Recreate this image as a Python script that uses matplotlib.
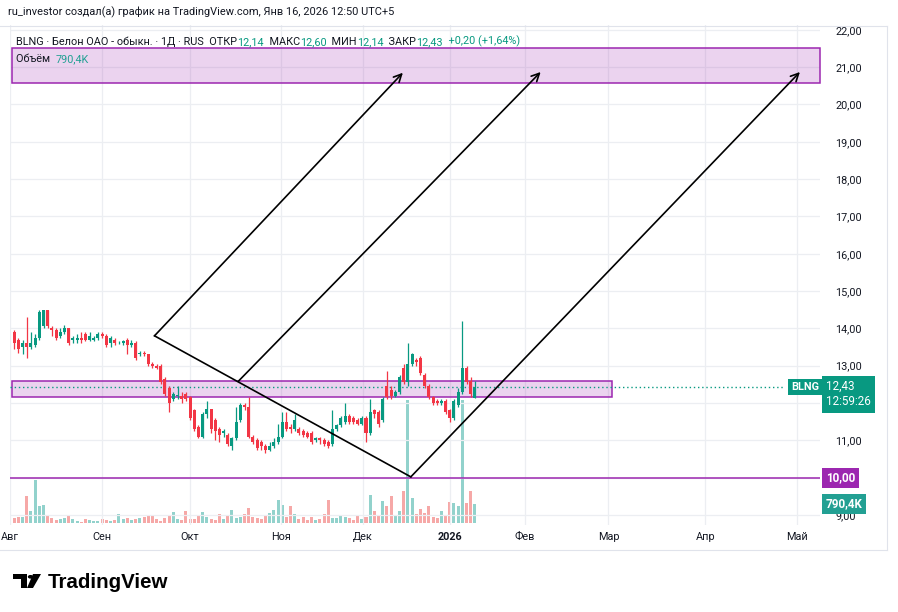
import numpy as np
import matplotlib
matplotlib.use("Agg")
import matplotlib.pyplot as plt
import matplotlib.transforms as mtransforms
from matplotlib.patches import Rectangle, Polygon, Circle
from matplotlib.lines import Line2D
from matplotlib.ticker import FuncFormatter

plt.rcParams["font.family"] = ["Roboto", "DejaVu Sans"]

# daily candles, Aug 2025 .. Jan 16 2026 (bar index = trading day)
opens = [13.9, 13.7, 13.5, 13.6, 13.5, 13.55, 13.75, 14.05, 14.5, 14.0,
         13.95, 13.8, 13.9, 14.0, 13.7, 13.7, 13.75, 13.85, 13.7, 13.7,
         13.75, 13.85, 13.8, 13.6, 13.7, 13.6, 13.62, 13.7, 13.55, 13.6,
         13.3, 13.35, 13.3, 13.05, 13.0, 13.0, 12.65, 12.4, 12.1, 12.2,
         12.2, 12.25, 12.15, 11.8, 11.35, 11.1, 11.7, 11.85, 11.55, 11.3,
         11.2, 11.15, 10.85, 11.05, 11.55, 11.95, 11.9, 11.1, 11.0, 10.95,
         10.85, 10.75, 10.85, 10.95, 11.1, 11.5, 11.35, 11.3, 11.3, 11.25,
         11.2, 11.2, 11.0, 11.05, 11.0, 10.95, 10.9, 11.3, 11.4, 11.5,
         11.65, 11.6, 11.55, 11.45, 11.6, 11.2, 11.8, 11.75, 11.55, 12.45,
         12.35, 12.2, 12.3, 12.95, 12.55, 13.05, 13.15, 13.2, 12.75, 12.45,
         12.15, 12.05, 12.0, 12.05, 11.8, 11.6, 11.95, 12.3, 12.95, 12.6, 12.14]
highs = [13.95, 13.75, 13.7, 14.3, 13.9, 13.85, 14.5, 14.5, 14.5, 14.05,
         14.0, 14.0, 14.1, 14.0, 13.8, 13.85, 13.9, 13.9, 13.9, 13.8,
         13.9, 13.9, 13.85, 13.8, 13.75, 13.65, 13.7, 13.75, 13.7, 13.65,
         13.4, 13.4, 13.3, 13.1, 13.05, 13.05, 12.7, 12.45, 12.3, 12.45,
         12.3, 12.3, 12.2, 11.85, 11.4, 11.75, 12.05, 11.85, 11.6, 11.35,
         11.3, 11.2, 11.1, 11.9, 12.0, 12.0, 12.15, 11.15, 11.05, 11.0,
         10.9, 10.95, 11.05, 11.45, 11.75, 11.75, 11.45, 11.7, 11.35, 11.3,
         11.25, 11.25, 11.1, 11.1, 11.05, 11.0, 11.8, 11.45, 11.65, 12.0,
         11.7, 11.65, 11.6, 11.65, 11.65, 12.1, 11.85, 11.8, 12.15, 12.85,
         12.45, 12.35, 12.75, 13.05, 13.6, 13.35, 13.2, 13.25, 12.8, 12.5,
         12.2, 12.1, 12.1, 12.1, 11.85, 12.1, 12.4, 14.2, 13.0, 12.7, 12.60]
lows = [13.45, 13.35, 13.3, 13.2, 13.45, 13.5, 13.7, 14.0, 14.0, 13.8,
        13.7, 13.75, 13.85, 13.55, 13.6, 13.6, 13.6, 13.65, 13.65, 13.65,
        13.7, 13.75, 13.5, 13.5, 13.55, 13.58, 13.55, 13.3, 13.5, 13.15,
        13.25, 13.25, 13.0, 12.95, 12.9, 12.5, 12.2, 11.75, 12.05, 12.1,
        12.0, 12.05, 11.55, 11.25, 11.05, 11.05, 11.6, 11.2, 11.0, 10.95,
        11.1, 10.85, 10.75, 11.0, 11.5, 11.8, 11.05, 10.9, 10.75, 10.75,
        10.65, 10.7, 10.8, 10.9, 11.05, 11.25, 11.2, 11.25, 11.15, 11.1,
        11.05, 10.9, 10.95, 10.9, 10.85, 10.8, 10.85, 11.25, 11.35, 11.45,
        11.45, 11.45, 11.4, 11.4, 10.95, 11.15, 11.6, 11.35, 11.5, 12.1,
        12.1, 12.15, 12.25, 12.5, 12.45, 13.0, 13.0, 12.75, 12.4, 12.1,
        11.95, 11.95, 11.95, 11.7, 11.5, 11.55, 11.9, 12.25, 12.5, 12.15, 12.14]
closes = [13.6, 13.45, 13.6, 13.5, 13.6, 13.75, 14.45, 14.5, 14.05, 13.95,
          13.75, 13.9, 14.0, 13.6, 13.75, 13.75, 13.7, 13.7, 13.8, 13.75,
          13.85, 13.8, 13.55, 13.75, 13.6, 13.62, 13.65, 13.55, 13.6, 13.2,
          13.35, 13.3, 13.05, 13.0, 12.95, 12.55, 12.25, 12.0, 12.25, 12.2,
          12.1, 12.1, 11.6, 11.3, 11.1, 11.7, 11.85, 11.3, 11.25, 11.15,
          11.25, 10.9, 11.05, 11.5, 11.95, 11.9, 11.1, 10.95, 10.8, 10.85,
          10.75, 10.85, 10.95, 11.1, 11.5, 11.3, 11.3, 11.55, 11.2, 11.15,
          11.1, 10.95, 11.05, 11.0, 10.9, 10.85, 11.3, 11.4, 11.6, 11.65,
          11.5, 11.5, 11.45, 11.6, 11.2, 11.75, 11.7, 11.45, 12.1, 12.15,
          12.2, 12.3, 12.7, 12.55, 13.05, 13.3, 13.1, 12.8, 12.45, 12.15,
          12.0, 12.0, 12.05, 11.75, 11.6, 12.05, 12.3, 12.95, 12.55, 12.23, 12.43]
volumes_k = [200, 230, 260, 1100, 480, 1760, 700, 730, 280, 220,
             120, 180, 200, 300, 150, 80, 60, 180, 120, 90,
             100, 180, 110, 100, 140, 380, 180, 200, 120, 180,
             200, 250, 300, 320, 150, 80, 200, 320, 430, 160,
             120, 490, 170, 160, 300, 440, 250, 150, 120, 380,
             150, 300, 520, 200, 230, 370, 600, 250, 200, 180,
             270, 400, 520, 930, 750, 230, 700, 380, 150, 250,
             120, 230, 120, 150, 360, 930, 200, 200, 330, 250,
             200, 120, 300, 150, 250, 1150, 500, 300, 900, 700,
             1100, 300, 500, 1300, 5000, 1000, 350, 570, 400, 700,
             250, 200, 490, 300, 850, 800, 700, 5000, 800, 1300, 790.4]

month_pos = [-1, 20.9, 41.9, 63.8, 83.3, 104.0, 121.9, 141.9, 165.0, 186.9]
month_labels = ["Авг", "Сен", "Окт", "Ноя", "Дек", "2026", "Фев", "Мар", "Апр", "Май"]
# 10,00 and 12,00 sit under the price labels
price_ticks = [9, 11, 13, 14, 15, 16, 17, 18, 19, 20, 21, 22]

# drawings on the chart (bar index, price)
v_line_x = [33.5, 94.7]
v_line_y = [13.80, 10.02]
arrow_starts = [(33.5, 13.80), (53.5, 12.58), (94.7, 10.02)]
arrow_ends = [(92.8, 20.85), (125.7, 20.87), (187.6, 20.87)]
top_zone = (20.58, 21.52)
mid_zone = (12.16, 12.59)
mid_zone_end = 142.8
support = 10.0

UP, DOWN = "#089981", "#f23645"
PURPLE = "#9c27b0"
DARK = "#131722"
FS = 7.8
LFS = 8.4

W, H = 898, 612


def px_rect(x0, y0, x1, y1):
    return [x0 / W, 1 - y1 / H, (x1 - x0) / W, (y1 - y0) / H]


def fmt(v):
    return f"{v:.2f}".replace(".", ",")


o = np.array(opens)
h = np.array(highs)
l = np.array(lows)
c = np.array(closes)
x = np.arange(len(c))
up = c >= o
colors = np.where(up, UP, DOWN)

fig = plt.figure(figsize=(W / 100, H / 100), dpi=100)
ax = fig.add_axes(px_rect(10, 25, 820, 525))
axv = ax.twinx()
ax.set_zorder(1)
axv.set_zorder(0)
ax.patch.set_visible(False)

# volume
vol_colors = np.where(up, "#26a69a", "#ef5350")
axv.bar(x, volumes_k, width=0.72, color=vol_colors, alpha=0.5, lw=0)
axv.set_ylim(-81, 20244)
axv.set_yticks([])
for s in axv.spines.values():
    s.set_visible(False)

# price axis
ax.set_xlim(-0.5, 192.4)
ax.set_ylim(8.73, 22.13)
ax.yaxis.tick_right()
ax.set_yticks(price_ticks)
ax.yaxis.set_major_formatter(FuncFormatter(lambda v, _: fmt(v)))
ax.tick_params(axis="y", length=0, pad=11, labelsize=FS, labelcolor=DARK)
ax.set_xticks(month_pos, month_labels)
ax.tick_params(axis="x", length=0, pad=5, labelsize=FS, labelcolor=DARK)
ax.get_xticklabels()[5].set_fontweight("bold")
for s in ax.spines.values():
    s.set_visible(False)
ax.set_axisbelow(True)
ax.grid(color="#eceef2", lw=0.9)
ax.set_yticks(np.arange(9, 23), minor=True)
ax.tick_params(axis="y", which="minor", length=0)
ax.grid(which="minor", axis="y", color="#eceef2", lw=0.9)

# zones and levels
ax.add_patch(Rectangle((-0.5, top_zone[0]), 192.9, top_zone[1] - top_zone[0],
                       facecolor=(0.612, 0.153, 0.69, 0.2), edgecolor=PURPLE,
                       lw=1.1, clip_on=False, zorder=2))
ax.add_patch(Rectangle((-0.5, mid_zone[0]), mid_zone_end + 0.5, mid_zone[1] - mid_zone[0],
                       facecolor=(0.612, 0.153, 0.69, 0.2), edgecolor=PURPLE,
                       lw=1.1, clip_on=False, zorder=2))
ax.axhline(support, color=PURPLE, lw=1.1, zorder=2)
ax.axhline(c[-1], xmax=0.957, color=UP, ls=(0, (1, 2)), lw=1, zorder=2)

# candles
ax.vlines(x, l, h, colors=colors, lw=0.9, zorder=3)
ax.bar(x, np.maximum(np.abs(c - o), 0.015), bottom=np.minimum(o, c),
       width=0.72, color=colors, lw=0, zorder=3)

# trend lines
ax.plot(v_line_x, v_line_y, color="black", lw=1.2, zorder=4)
for (xs, ys), (xe, ye) in zip(arrow_starts, arrow_ends):
    ax.annotate("", xy=(xe, ye), xytext=(xs, ys),
                arrowprops=dict(arrowstyle="->", color="black", lw=1.2,
                                mutation_scale=14, shrinkA=0, shrinkB=0),
                zorder=4, annotation_clip=False)

# price-scale labels
yt = ax.get_yaxis_transform()
vt = mtransforms.blended_transform_factory(ax.transAxes, axv.transData)
lab = dict(color="white", fontsize=LFS, va="center", ha="left", clip_on=False, zorder=10)
ax.annotate(f"{fmt(c[-1])}\n12:59:26", xy=(1.0074, c[-1]), xycoords=yt,
            xytext=(0, 5.0), textcoords="offset points", linespacing=1.25,
            bbox=dict(boxstyle="square,pad=0.35", fc=UP, ec="none"),
            annotation_clip=False, **{**lab, "va": "top"})
ax.text(0.9985, c[-1], "BLNG", transform=yt, fontweight="bold",
        bbox=dict(boxstyle="square,pad=0.3", fc=UP, ec="none"),
        **{**lab, "ha": "right", "fontsize": FS})
ax.text(1.0074, support, fmt(support), transform=yt, fontweight="bold",
        bbox=dict(boxstyle="square,pad=0.3", fc=PURPLE, ec="none"), **lab)
ax.text(1.0074, volumes_k[-1], f"{volumes_k[-1]:.1f}K".replace(".", ","), transform=vt,
        fontweight="bold", bbox=dict(boxstyle="square,pad=0.3", fc="#22a093", ec="none"), **lab)

# header texts
fig.text(8 / W, 1 - 12 / H, "ru_investor создал(а) график на TradingView.com, Янв 16, 2026 12:50 UTC+5",
         fontsize=7.9, color=DARK, va="center", ha="left")

chg = c[-1] - c[-2]
pieces = [("BLNG · Белон ОАО - обыкн. · 1Д · RUS  ОТКР", DARK), (fmt(o[-1]), UP),
          ("  МАКС", DARK), (fmt(h[-1]), UP), ("  МИН", DARK), (fmt(l[-1]), UP),
          ("  ЗАКР", DARK), (fmt(c[-1]), UP),
          (f"  {chg:+.2f} ({chg / c[-2] * 100:+.2f}%)".replace(".", ","), UP)]
prev = fig.text(16 / W, 1 - 47 / H, pieces[0][0], color=pieces[0][1], fontsize=FS,
                va="bottom", ha="left")
for s, col in pieces[1:]:
    prev = ax.annotate(s, xy=(1, 0), xycoords=prev, va="bottom", ha="left",
                       color=col, fontsize=FS, annotation_clip=False)
vl = fig.text(16 / W, 1 - 64 / H, "Объём  ", color=DARK, fontsize=FS, va="bottom", ha="left")
ax.annotate(f"{volumes_k[-1]:.1f}K".replace(".", ","), xy=(1, 0), xycoords=vl,
            va="bottom", ha="left", color="#22a093", fontsize=FS, annotation_clip=False)

# chart frame
frame = "#e0e3eb"
fig.add_artist(Line2D([0, 887 / W], [1 - 26 / H] * 2, color=frame, lw=0.8))
fig.add_artist(Line2D([887 / W] * 2, [1 - 26 / H, 1 - 550 / H], color=frame, lw=0.8))
fig.add_artist(Line2D([0, 887 / W], [1 - 550 / H] * 2, color=frame, lw=0.8))


# logo
def fp(px, py):
    return (px / W, 1 - py / H)


fig.add_artist(Polygon([fp(13, 574), fp(27, 574), fp(27, 588), fp(21, 588), fp(21, 579), fp(13, 579)],
                       closed=True, fc="black", ec="none", transform=fig.transFigure))
fig.add_artist(Polygon([fp(33, 574), fp(41, 574), fp(33, 588), fp(27, 588)],
                       closed=True, fc="black", ec="none", transform=fig.transFigure))
fig.add_artist(Circle(fp(30.5, 576.8), 2.7 / W, fc="black", ec="none", transform=fig.transFigure))
fig.text(48 / W, 1 - 582 / H, "TradingView", fontsize=14.8, fontweight="bold",
         color="black", va="center", ha="left", family=["Liberation Sans", "DejaVu Sans"])

fig.savefig("out.png", dpi=100, facecolor="white")
